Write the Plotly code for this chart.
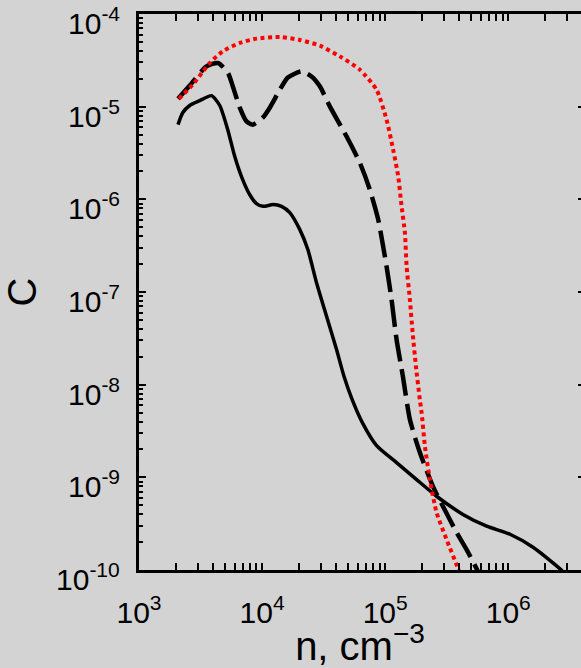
import math
import plotly.graph_objects as go

# Density n (cm^-3) and abundance C for the three model runs
n_solid = [2075, 2265, 2582, 3113, 3881, 4530, 5260, 5998, 6802, 7943, 9000, 10190,
           12280, 14380, 16790, 20260, 23540, 27690, 33400, 40270, 46130, 53550,
           65900, 85200, 123800, 180000, 261600, 428200, 667400, 1033000, 1589000,
           2630000, 3480000]
c_solid = [6.4e-6, 8.6e-6, 1.03e-5, 1.16e-5, 1.315e-5, 1.03e-5, 5.65e-6, 2.89e-6,
           1.76e-6, 1.12e-6, 9.0e-7, 8.4e-7, 8.77e-7, 8.4e-7, 7.19e-7, 4.71e-7,
           2.87e-7, 1.26e-7, 5.47e-8, 2.39e-8, 1.25e-8, 7.08e-9, 3.80e-9, 2.20e-9,
           1.44e-9, 9.46e-10, 6.25e-10, 3.98e-10, 2.97e-10, 2.43e-10, 1.76e-10,
           1.03e-10, 7e-11]

n_dash = [2075, 2582, 3532, 4385, 5290, 5780, 6590, 7470, 8400, 10130, 11550, 13940,
          16190, 20900, 25210, 29450, 35500, 48500, 62200, 75100, 87800, 102600,
          112700, 123800, 139300, 158800, 191500, 244300, 294500, 380300, 458900,
          553400, 611000]
c_dash = [1.22e-5, 1.69e-5, 2.72e-5, 2.96e-5, 2.31e-5, 1.66e-5, 9.75e-6, 6.93e-6,
          6.4e-6, 7.6e-6, 9.75e-6, 1.52e-5, 2.06e-5, 2.40e-5, 2.12e-5, 1.66e-5,
          1.007e-5, 4.79e-6, 2.49e-6, 1.27e-6, 6.04e-7, 1.89e-7, 8.27e-8, 3.06e-8,
          1.23e-8, 4.2e-9, 1.85e-9, 8.0e-10, 4.88e-10, 2.54e-10, 1.66e-10, 1.03e-10,
          7.9e-11]

n_red = [2113, 2735, 3760, 4790, 6590, 9000, 13940, 20260, 29450, 42850, 62200, 85200,
         102600, 116100, 127600, 135900, 144600, 149300, 158800, 167100, 177800,
         191500, 197700, 210400, 230700, 261600, 315500, 391800, 420700]
c_red = [1.22e-5, 1.73e-5, 2.96e-5, 3.95e-5, 4.87e-5, 5.42e-5, 5.65e-5, 5.25e-5,
         4.55e-5, 3.49e-5, 2.51e-5, 1.52e-5, 7.24e-6, 3.44e-6, 1.77e-6, 8.41e-7,
         4.38e-7, 1.89e-7, 8.27e-8, 3.65e-8, 1.58e-8, 6.82e-9, 5.0e-9, 2.16e-9,
         9.46e-10, 4.17e-10, 2.13e-10, 1.03e-10, 7.9e-11]

x_ticks = [1e3, 1e4, 1e5, 1e6]
x_ticktext = ["10<sup>3</sup>", "10<sup>4</sup>", "10<sup>5</sup>", "10<sup>6</sup>"]
y_ticks = [1e-10, 1e-9, 1e-8, 1e-7, 1e-6, 1e-5, 1e-4]
y_ticktext = ["10<sup>-10</sup>", "10<sup>-9</sup>", "10<sup>-8</sup>", "10<sup>-7</sup>",
              "10<sup>-6</sup>", "10<sup>-5</sup>", "10<sup>-4</sup>"]

x_minor = [m * 10 ** e for e in range(3, 7) for m in range(2, 10)]
y_minor = [m * 10.0 ** e for e in range(-10, -4) for m in range(2, 10)]

BG = "#d3d3d3"
FONT = "Liberation Sans, Arial, sans-serif"
TICK_SIZE = 30

fig = go.Figure()
fig.add_trace(go.Scatter(x=n_solid, y=c_solid, mode="lines",
                         line=dict(color="black", width=3.5, shape="spline", smoothing=0.6)))
fig.add_trace(go.Scatter(x=n_dash, y=c_dash, mode="lines",
                         line=dict(color="black", width=4.5, dash="27px,8px",
                                   shape="spline", smoothing=0.6)))
fig.add_trace(go.Scatter(x=n_red, y=c_red, mode="lines", yaxis="y2",
                         line=dict(color="red", width=4, dash="4px,3.5px",
                                   shape="spline", smoothing=0.6)))

axis_common = dict(
    type="log", showgrid=False, zeroline=False, ticks="inside", ticklen=7,
    tickwidth=2, tickcolor="black",
)

fig.update_layout(
    width=581, height=668,
    margin=dict(l=139, r=0, t=14, b=98),
    paper_bgcolor=BG, plot_bgcolor=BG,
    showlegend=False,
    font=dict(family=FONT, color="black"),
    xaxis=dict(
        **axis_common, range=[3, 6.591], tickmode="array", tickvals=x_ticks,
        ticktext=x_ticktext, showline=True, linewidth=2.5, linecolor="black",
        mirror="allticks", ticklabelstandoff=14,
        tickfont=dict(size=TICK_SIZE, family=FONT, color="black"),
        minor=dict(tickmode="array", tickvals=x_minor, ticks="inside", ticklen=4,
                   tickwidth=1.5, tickcolor="black"),
        title=dict(text="n, cm<sup>\u22123</sup>", font=dict(size=40, family=FONT),
                   standoff=2),
    ),
    yaxis=dict(
        **axis_common, range=[-10, -4], tickmode="array", tickvals=y_ticks,
        showticklabels=False, showline=True, linewidth=2.5, linecolor="black",
        mirror=False,
        minor=dict(tickmode="array", tickvals=y_minor, ticks="inside", ticklen=4,
                   tickwidth=1.5, tickcolor="black"),
        title=dict(text="C", font=dict(size=40, family=FONT), standoff=96),
    ),
    yaxis2=dict(
        type="log", range=[-10, -4], overlaying="y", side="right",
        tickmode="array", tickvals=y_ticks, ticks="inside", ticklen=3, tickwidth=2,
        tickcolor="black", showticklabels=False, showline=False, showgrid=False,
        zeroline=False,
    ),
)

# Decade labels on the left axis, set slightly below their ticks
for val, txt in zip(y_ticks, y_ticktext):
    fig.add_annotation(x=0, xref="paper", y=math.log10(val), yref="y", text=txt,
                       showarrow=False, xanchor="right", yanchor="middle",
                       xshift=-17, yshift=-7,
                       font=dict(size=TICK_SIZE, family=FONT, color="black"))

fig.write_html("out.html")
